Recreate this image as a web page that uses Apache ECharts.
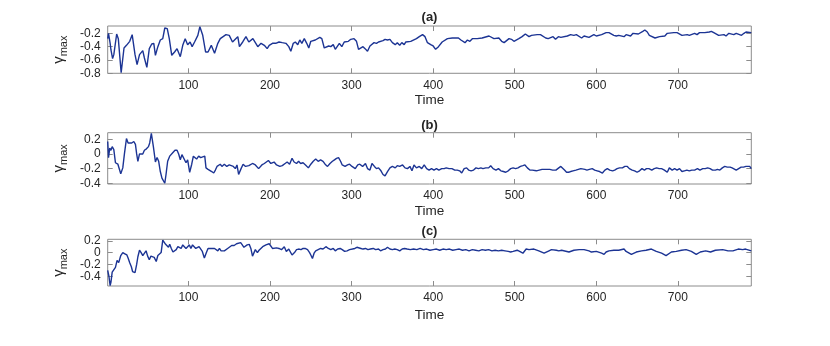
<!DOCTYPE html>
<html>
<head>
    <meta charset="utf-8">
    <script type="text/javascript" src="https://cdn.jsdelivr.net/npm/echarts@6/dist/echarts.min.js"></script>
    <style type="text/css">
        * {
            margin: 0;
            padding: 0;
        }
        #container {
            width: 830px;
            height: 346px;
        }
    </style>
</head>
<body>
<div id="container"></div>

<script type="text/javascript">

    //(a) time / gamma_max
    var timeA = [1, 2, 4, 5, 7, 8.5, 12, 14, 17.5, 21,
        24, 26, 28, 31, 34.5, 37, 40, 44, 46, 49,
        52, 55, 57.5, 59.5, 62.5, 65.5, 68.5, 71, 74, 76.5,
        79.5, 83, 86, 90, 93, 96, 99, 102, 104.5, 107.5,
        111.5, 114, 117.5, 121, 124, 128, 132, 136, 139, 141,
        146, 150, 154, 158, 160.5, 162.5, 166.5, 170.5, 174, 179,
        181, 185, 189, 193, 196.5, 199, 203, 207, 211, 215,
        219.5, 223, 225.5, 228.5, 231, 234, 236.5, 239, 242, 245,
        247.5, 250, 255.5, 261, 263.5, 266.5, 272, 274.5, 277.5, 280,
        285, 288, 291, 296, 299, 303, 306, 308.5, 314, 316.5,
        319.5, 322.5, 327.5, 330.5, 333, 338.5, 341, 344, 347, 350,
        353.5, 356, 359, 361.5, 364.5, 366.5, 372.5, 379.5, 383, 387,
        390, 393, 397, 400, 403, 406.5, 411, 417.5, 423.5, 431,
        434, 439, 442, 445, 448, 454, 460, 468.5, 474.5, 480.5,
        484, 487, 493, 496, 499, 505, 509, 513, 517.5, 520.5,
        527.5, 531.5, 538, 541, 547, 550, 553.5, 556.5, 564.5, 568.5,
        572.5, 575.5, 582, 585, 591, 597, 600, 606.5, 612, 615.5,
        621.5, 624.5, 627.5, 634, 636.5, 642, 645, 651.5, 657, 659.5,
        662.5, 665, 672, 677.5, 684, 687, 695, 699, 705, 711.5,
        714, 720.5, 723.5, 726.5, 733, 738.5, 741, 744, 750, 756.5,
        759, 762.5, 768.5, 771.5, 778, 781, 783.5, 790];
    var gammaA = [-0.28, -0.20, -0.35, -0.45, -0.58, -0.52, -0.21, -0.28, -0.79, -0.42,
        -0.38, -0.35, -0.32, -0.22, -0.52, -0.67, -0.52, -0.46, -0.57, -0.71,
        -0.43, -0.36, -0.35, -0.53, -0.40, -0.30, -0.28, -0.12, -0.13, -0.28,
        -0.53, -0.48, -0.43, -0.55, -0.38, -0.28, -0.37, -0.33, -0.40, -0.33,
        -0.23, -0.10, -0.23, -0.48, -0.48, -0.38, -0.50, -0.35, -0.28, -0.30,
        -0.22, -0.23, -0.33, -0.28, -0.25, -0.40, -0.33, -0.25, -0.33, -0.28,
        -0.25, -0.40, -0.35, -0.38, -0.43, -0.38, -0.35, -0.35, -0.33, -0.34,
        -0.35, -0.40, -0.47, -0.35, -0.33, -0.37, -0.30, -0.35, -0.28, -0.35,
        -0.42, -0.32, -0.30, -0.26, -0.28, -0.42, -0.39, -0.40, -0.37, -0.44,
        -0.35, -0.40, -0.33, -0.32, -0.29, -0.28, -0.32, -0.44, -0.40, -0.43,
        -0.47, -0.39, -0.34, -0.35, -0.33, -0.31, -0.29, -0.30, -0.29, -0.34,
        -0.37, -0.34, -0.38, -0.34, -0.37, -0.33, -0.32, -0.28, -0.25, -0.22,
        -0.25, -0.34, -0.37, -0.39, -0.44, -0.40, -0.33, -0.28, -0.27, -0.27,
        -0.30, -0.34, -0.30, -0.32, -0.28, -0.28, -0.27, -0.24, -0.28, -0.27,
        -0.32, -0.34, -0.28, -0.29, -0.32, -0.28, -0.25, -0.21, -0.25, -0.23,
        -0.22, -0.22, -0.27, -0.28, -0.25, -0.29, -0.25, -0.26, -0.24, -0.22,
        -0.23, -0.22, -0.27, -0.24, -0.26, -0.22, -0.24, -0.22, -0.19, -0.19,
        -0.23, -0.24, -0.23, -0.25, -0.22, -0.24, -0.20, -0.21, -0.17, -0.15,
        -0.18, -0.23, -0.27, -0.25, -0.24, -0.20, -0.19, -0.19, -0.23, -0.22,
        -0.23, -0.20, -0.22, -0.19, -0.19, -0.18, -0.17, -0.19, -0.23, -0.22,
        -0.24, -0.20, -0.22, -0.20, -0.23, -0.20, -0.18, -0.19];

    //(b)
    var timeB = [1, 2, 3.5, 5, 6.5, 8.5, 10.5, 13.5, 17, 19.5,
        21.5, 24, 26, 28, 30.5, 33, 35, 36.5, 38, 40,
        42, 44, 46, 48.5, 51, 52.5, 54.5, 55.5, 57, 59.5,
        61.5, 63.5, 65.5, 67.5, 69, 71, 72.5, 74.5, 77, 79,
        81, 83.5, 86, 88, 90, 92, 94, 97, 99, 101.5,
        104, 106, 108, 110, 112.5, 115, 117, 120, 121.5, 124,
        126, 128.5, 131, 133, 135, 137, 139, 141, 144, 147,
        150, 152, 155, 157.5, 159.5, 161.5, 164.5, 167, 170, 174,
        178.5, 182, 186, 190, 193, 198, 201, 205, 208, 212,
        215, 218.5, 221, 224, 227, 229.5, 232.5, 235, 237.5, 240.5,
        243.5, 247, 250, 253, 256, 259, 262, 265, 267.5, 270.5,
        273.5, 276.5, 279, 281.5, 284, 286.5, 288.5, 292, 295, 297.5,
        300.5, 304.5, 307.5, 310, 313.5, 317, 319.5, 322.5, 325, 328,
        330.5, 333, 336, 338.5, 341, 344, 347, 350, 353.5, 356,
        359, 362.5, 365.5, 368.5, 371.5, 374, 376.5, 379.5, 383, 386,
        389, 392, 395, 398, 401, 404, 407, 410.5, 413.5, 416,
        419.5, 423, 426.5, 429.5, 432.5, 435, 438, 441, 443.5, 446.5,
        449.5, 452.5, 455.5, 458.5, 461, 464.5, 468, 470.5, 473.5, 477,
        480, 483, 486, 489, 492, 495, 498, 501, 504, 507,
        510, 512.5, 515.5, 518.5, 521.5, 526.5, 530, 533.5, 536.5, 539.5,
        543, 546.5, 550.5, 554, 556.5, 558.5, 561, 563.5, 566, 568.5,
        571.5, 575, 578, 581, 583, 586, 588.5, 591.5, 595, 598,
        601, 604, 607.5, 610.5, 613.5, 616.5, 620, 622.5, 625.5, 628.5,
        632, 635, 638, 640.5, 644, 647, 650, 653, 656, 659,
        661.5, 664.5, 668, 671, 674, 677, 680, 683.5, 687, 689.5,
        693, 696, 699, 702, 705, 708, 711, 714, 717, 720.5,
        724, 727, 730.5, 733.5, 736.5, 739.5, 742.5, 746, 748.5, 751.5,
        754.5, 757.5, 760.5, 764, 766.5, 768.5, 771.5, 774.5, 777.5, 780.5,
        783.5, 785.5, 788, 790];
    var gammaB = [0.17, -0.05, 0.08, 0.05, 0.10, 0.06, -0.12, -0.14, -0.27, -0.19,
        0.00, 0.21, 0.15, 0.17, 0.15, 0.17, 0.13, 0.00, -0.10, 0.00,
        0.01, 0.00, 0.05, 0.07, 0.10, 0.15, 0.28, 0.26, 0.10, -0.11,
        -0.05, -0.10, -0.24, -0.33, -0.35, -0.40, -0.28, -0.10, -0.03, -0.03,
        0.02, 0.05, 0.05, 0.00, -0.08, -0.01, -0.03, -0.12, -0.08, -0.25,
        -0.14, -0.03, -0.01, -0.07, -0.03, -0.05, -0.07, -0.03, -0.19, -0.21,
        -0.19, -0.24, -0.26, -0.22, -0.17, -0.19, -0.14, -0.17, -0.14, -0.17,
        -0.15, -0.13, -0.17, -0.20, -0.15, -0.28, -0.20, -0.14, -0.17, -0.16,
        -0.13, -0.15, -0.20, -0.15, -0.13, -0.09, -0.13, -0.11, -0.15, -0.17,
        -0.16, -0.13, -0.11, -0.14, -0.06, -0.11, -0.13, -0.10, -0.13, -0.12,
        -0.15, -0.19, -0.14, -0.10, -0.07, -0.10, -0.08, -0.10, -0.14, -0.17,
        -0.13, -0.10, -0.08, -0.06, -0.05, -0.10, -0.15, -0.17, -0.15, -0.14,
        -0.17, -0.20, -0.15, -0.14, -0.17, -0.13, -0.20, -0.22, -0.13, -0.17,
        -0.20, -0.19, -0.23, -0.28, -0.30, -0.24, -0.19, -0.17, -0.19, -0.16,
        -0.17, -0.15, -0.19, -0.20, -0.17, -0.23, -0.15, -0.19, -0.17, -0.20,
        -0.15, -0.20, -0.22, -0.20, -0.22, -0.20, -0.22, -0.20, -0.20, -0.19,
        -0.20, -0.20, -0.22, -0.22, -0.23, -0.26, -0.20, -0.19, -0.22, -0.23,
        -0.22, -0.19, -0.20, -0.19, -0.20, -0.19, -0.19, -0.16, -0.20, -0.22,
        -0.20, -0.23, -0.24, -0.25, -0.23, -0.20, -0.19, -0.20, -0.19, -0.17,
        -0.16, -0.15, -0.19, -0.22, -0.22, -0.23, -0.22, -0.21, -0.21, -0.21,
        -0.21, -0.22, -0.22, -0.19, -0.17, -0.19, -0.22, -0.25, -0.25, -0.24,
        -0.23, -0.22, -0.21, -0.20, -0.19, -0.21, -0.22, -0.21, -0.20, -0.22,
        -0.23, -0.24, -0.26, -0.22, -0.20, -0.22, -0.23, -0.22, -0.20, -0.19,
        -0.19, -0.17, -0.17, -0.20, -0.22, -0.23, -0.25, -0.23, -0.20, -0.22,
        -0.20, -0.20, -0.22, -0.20, -0.19, -0.20, -0.20, -0.22, -0.25, -0.19,
        -0.22, -0.20, -0.22, -0.20, -0.24, -0.23, -0.22, -0.23, -0.22, -0.22,
        -0.20, -0.22, -0.20, -0.20, -0.19, -0.20, -0.22, -0.22, -0.21, -0.22,
        -0.19, -0.17, -0.18, -0.18, -0.19, -0.17, -0.22, -0.20, -0.18, -0.18,
        -0.17, -0.15, -0.17, -0.20];

    //(c)
    var timeC = [1, 2.5, 4, 5, 6.5, 8.5, 10.5, 12.5, 14.5, 17,
        19.5, 22, 24.5, 26, 28, 30, 31.5, 33, 34.5, 36.5,
        38, 40, 42, 44, 46, 48, 50, 52, 54, 56,
        58, 60.5, 62.5, 64.5, 66.5, 68.5, 70, 72, 74, 75.5,
        77, 79, 81, 83, 85, 87, 89, 91, 93, 95,
        97, 99, 101, 103, 105, 107, 109, 111, 113, 115,
        117, 119.5, 122, 124, 126, 128, 130, 132, 134, 136,
        138, 140, 142, 144, 146, 148, 150, 153, 156, 159,
        161, 164, 166, 168, 170, 172, 174.5, 176.5, 178.5, 180.5,
        182, 184.5, 186.5, 188.5, 191, 193, 195, 197, 199, 201,
        203, 205, 208, 211, 214, 217.5, 220, 223, 227, 230,
        232.5, 235, 238, 240.5, 243, 246, 248.5, 250, 252, 254,
        256, 259, 262, 265, 268.5, 271.5, 274.5, 277.5, 280, 283,
        286, 288.5, 291.5, 294.5, 297.5, 301, 304, 306.5, 308.5, 311.5,
        314, 317, 320, 323, 326.5, 329.5, 333, 335.5, 338.5, 341.5,
        344, 347, 350, 353, 356, 359, 362, 365, 368, 372,
        376, 380, 384, 388, 392, 396, 400, 404, 408, 412,
        416, 420, 424, 428, 432, 436, 440, 444, 448, 452,
        456, 460, 464, 468, 472, 476, 480, 484, 488, 492,
        495, 498, 500, 503, 506, 510, 514, 517.5, 523.5, 529.5,
        536, 542, 545, 551, 554, 557.5, 566.5, 572.5, 579, 585,
        591, 594, 600, 606.5, 609.5, 612, 615.5, 621.5, 627.5, 634,
        636.5, 643, 649, 655.5, 661, 667.5, 673.5, 680, 685.5, 692,
        698, 704.5, 710, 716.5, 722.5, 727.5, 734, 740, 746, 755,
        761.5, 767.5, 774, 779.5, 783, 790];
    var gammaC = [-0.30, -0.40, -0.56, -0.50, -0.33, -0.33, -0.25, -0.13, -0.17, -0.05,
        0.00, -0.02, -0.04, -0.09, -0.17, -0.24, -0.32, -0.30, -0.34, -0.20,
        -0.07, 0.04, 0.00, -0.05, -0.04, 0.03, -0.06, -0.12, -0.06, -0.04,
        -0.08, -0.15, -0.05, -0.02, 0.00, 0.21, 0.18, 0.14, 0.17, 0.09,
        0.14, 0.07, 0.01, -0.01, 0.05, 0.10, 0.13, 0.07, 0.13, 0.10,
        0.07, 0.10, 0.13, 0.07, 0.13, 0.10, 0.07, 0.05, 0.10, 0.07,
        0.02, -0.09, 0.00, 0.07, 0.10, 0.07, 0.05, 0.07, 0.05, 0.03,
        0.07, 0.03, 0.02, 0.03, 0.05, 0.07, 0.09, 0.12, 0.12, 0.15,
        0.16, 0.17, 0.13, 0.09, 0.10, 0.13, 0.14, 0.07, -0.06, -0.03,
        0.05, 0.00, 0.04, 0.07, 0.10, 0.12, 0.13, 0.10, 0.15, 0.13,
        0.07, 0.10, 0.08, 0.07, 0.05, 0.10, 0.02, 0.06, -0.04, 0.00,
        0.05, 0.06, 0.05, 0.07, 0.07, 0.05, 0.00, -0.04, -0.10, -0.01,
        0.03, 0.05, 0.07, 0.06, 0.10, 0.07, 0.05, 0.07, 0.03, 0.06,
        0.07, 0.05, 0.02, 0.03, 0.05, 0.06, 0.07, 0.09, 0.10, 0.07,
        0.06, 0.07, 0.05, 0.06, 0.07, 0.05, 0.06, 0.03, 0.05, 0.06,
        0.09, 0.06, 0.05, 0.06, 0.05, 0.03, 0.06, 0.07, 0.06, 0.05,
        0.06, 0.05, 0.07, 0.05, 0.06, 0.04, 0.05, 0.06, 0.04, 0.06,
        0.05, 0.06, 0.04, 0.05, 0.06, 0.04, 0.05, 0.03, 0.05, 0.04,
        0.03, 0.05, 0.04, 0.05, 0.03, 0.04, 0.03, 0.04, 0.03, 0.02,
        0.01, 0.02, 0.00, 0.04, 0.02, -0.01, 0.06, 0.05, 0.06, 0.03,
        -0.01, 0.03, 0.05, 0.04, 0.03, 0.04, 0.01, 0.04, 0.05, 0.05,
        0.03, 0.01, 0.02, -0.01, -0.03, 0.01, 0.03, 0.04, 0.04, 0.06,
        0.02, -0.03, 0.01, 0.03, 0.04, 0.06, 0.02, -0.01, -0.05, 0.01,
        0.02, 0.04, 0.05, 0.02, -0.03, 0.01, 0.03, 0.01, 0.04, 0.05,
        0.03, 0.03, 0.06, 0.05, 0.06, 0.03];

    //刻度
    var xTicks = [100, 200, 300, 400, 500, 600, 700];
    var yTicksA = [-0.8, -0.6, -0.4, -0.2];
    var yTicksB = [-0.4, -0.2, 0, 0.2];
    var yTicksC = [-0.4, -0.2, 0, 0.2];
    var panelTitles = ['(a)', '(b)', '(c)'];

    var lineColor = '#1c3494';
    var boxColor = '#8c8c8c';
    var textColor = '#262626';
    var font = 'Liberation Sans';

    //每个子图的位置
    var panels = [
        {top: 26, height: 47.3, min: -0.8, max: -0.09, ticks: yTicksA, time: timeA, vals: gammaA, titleY: 17.5, nameGap: 20},
        {top: 132.7, height: 51.3, min: -0.41, max: 0.29, ticks: yTicksB, time: timeB, vals: gammaB, titleY: 125, nameGap: 20},
        {top: 239.3, height: 46.7, min: -0.565, max: 0.225, ticks: yTicksC, time: timeC, vals: gammaC, titleY: 231, nameGap: 22}
    ];

    function pairs(t, v) {
        var out = [];
        for (var i = 0; i < t.length; i++) {
            out.push([t[i], v[i]]);
        }
        return out;
    }

    var grids = [], xAxes = [], yAxes = [], series = [], graphics = [];

    panels.forEach(function (p, i) {
        grids.push({
            left: 107.7, right: 78.7, top: p.top, height: p.height,
            show: true, borderColor: boxColor, borderWidth: 1,
            backgroundColor: 'transparent', containLabel: false, outerBoundsMode: 'none'
        });
        var tickStyle = {show: true, inside: true, length: 5, customValues: xTicks, lineStyle: {color: boxColor, width: 1}};
        //底部x轴
        xAxes.push({
            gridIndex: i, type: 'value', min: 1, max: 790, position: 'bottom',
            axisLine: {show: false, onZero: false},
            axisTick: tickStyle,
            axisLabel: {customValues: xTicks, margin: 6, fontSize: 12, color: textColor, fontFamily: font},
            splitLine: {show: false},
            name: 'Time', nameLocation: 'middle', nameGap: p.nameGap,
            nameTextStyle: {fontSize: 13.5, color: textColor, fontFamily: font}
        });
        //顶部x轴，只有刻度
        xAxes.push({
            gridIndex: i, type: 'value', min: 1, max: 790, position: 'top',
            axisLine: {show: false, onZero: false},
            axisTick: tickStyle,
            axisLabel: {show: false},
            splitLine: {show: false}
        });
        var yTick = {show: true, inside: true, length: 5, customValues: p.ticks, lineStyle: {color: boxColor, width: 1}};
        yAxes.push({
            gridIndex: i, type: 'value', min: p.min, max: p.max, position: 'left',
            axisLine: {show: false, onZero: false},
            axisTick: yTick,
            axisLabel: {customValues: p.ticks, margin: 7, fontSize: 12, color: textColor, fontFamily: font},
            splitLine: {show: false},
            name: '{g|γ}{s|max}', nameLocation: 'middle', nameRotate: 90, nameGap: 32,
            nameTextStyle: {
                color: textColor,
                rich: {
                    g: {fontSize: 15, fontFamily: font, color: textColor},
                    s: {fontSize: 11, fontFamily: font, color: textColor, verticalAlign: 'bottom', padding: [9, 0, 0, 0]}
                }
            }
        });
        yAxes.push({
            gridIndex: i, type: 'value', min: p.min, max: p.max, position: 'right',
            axisLine: {show: false, onZero: false},
            axisTick: yTick,
            axisLabel: {show: false},
            splitLine: {show: false}
        });
        series.push({
            type: 'line',
            xAxisIndex: i * 2,
            yAxisIndex: i * 2,
            data: pairs(p.time, p.vals),
            showSymbol: false,
            symbol: 'none',
            lineStyle: {color: lineColor, width: 1.4},
            clip: true
        });
        graphics.push({
            type: 'text', x: 429.5, y: p.titleY,
            style: {text: panelTitles[i], font: 'bold 13px "Liberation Sans"', fill: textColor, align: 'center', verticalAlign: 'middle'}
        });
    });

    var myChart = echarts.init(document.getElementById('container'));
    var option = {
        animation: false,
        backgroundColor: '#ffffff',
        grid: grids,
        xAxis: xAxes,
        yAxis: yAxes,
        series: series,
        graphic: graphics
    };
    myChart.setOption(option, true);

</script>
</body>
</html>
